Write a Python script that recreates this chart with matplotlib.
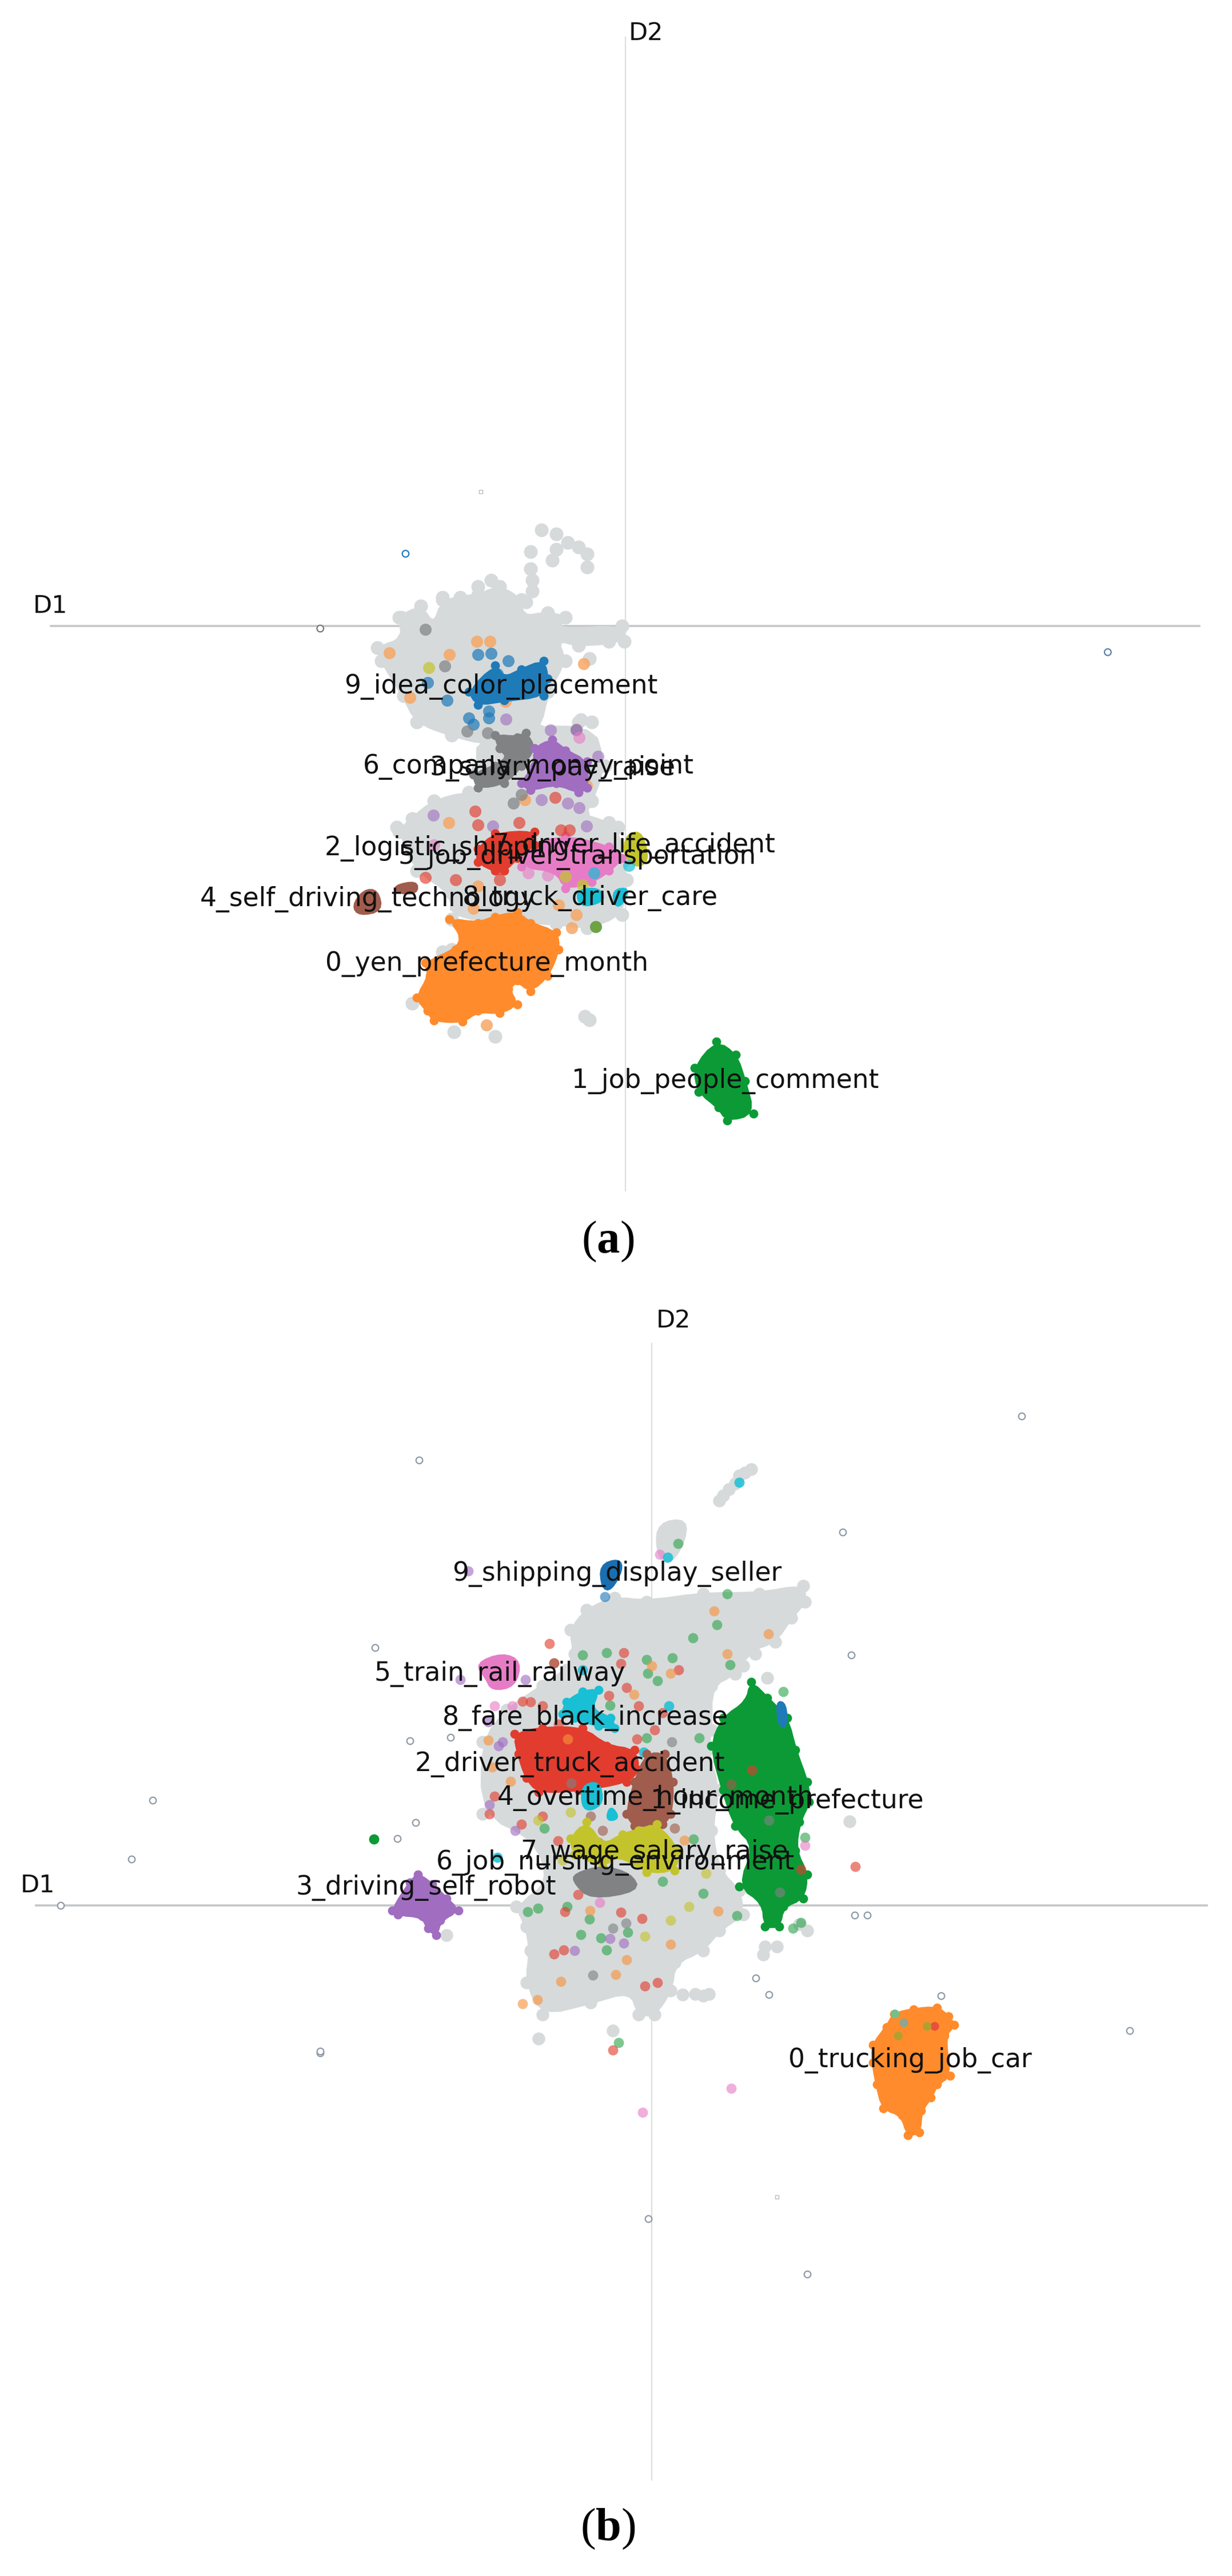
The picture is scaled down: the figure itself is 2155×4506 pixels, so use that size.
import matplotlib
matplotlib.use("Agg")
import matplotlib.pyplot as plt

plt.rcParams['font.family'] = ['DejaVu Sans']
plt.rcParams['mathtext.fontset'] = 'custom'
plt.rcParams['mathtext.rm'] = 'Liberation Serif'
plt.rcParams['mathtext.bf'] = 'Liberation Serif:bold'

BLUE, ORANGE, GREEN, RED, PURPLE = '#1f7ab8', '#ff8b2c', '#0c9a36', '#e23c2e', '#a06dc0'
BROWN, PINK, DGRAY, OLIVE, CYAN = '#a05c4c', '#e77cc6', '#808284', '#c3c42c', '#19bfd4'
LGRAY = '#d6dadb'

# ---------- Panel (a) ----------
a_gray_blobs = [
    [(520,300),(570,275),(600,320),(620,260),(700,250),(750,230),(800,260),(800,300),(860,290),(900,300),(880,330),(1030,320),(1035,355),(930,365),(880,350),(900,400),(860,470),(840,560),(780,570),(720,590),(640,570),(560,540),(530,480),(480,400),(470,370),(530,350)],
    [(700,570),(960,540),(990,640),(960,720),(940,760),(880,770),(700,720),(700,650)],
    [(550,760),(600,720),(680,700),(780,720),(940,750),(1020,780),(1030,860),(1040,900),(1030,980),(950,1010),(880,1000),(640,990),(640,930),(560,880),(520,790)],
]
a_gray_x = [845,880,905,930,950,950,880,870,820,820,825,825,810,790,730,700,620,660,700,730,745,640,550,740,945,645,620,515,930,955,870,1000,525,632,935,955,1000]
a_gray_y = [100,110,130,140,155,185,145,170,150,190,215,240,265,290,215,230,255,255,280,270,240,1060,1182,1258,1212,1248,1065,780,540,395,595,770,300,296,535,1220,355]
a_blue_blobs = [[(680,470),(740,410),(760,440),(800,420),(850,400),(860,440),(850,480),(760,490),(700,500)]]
a_blue_x = [700,730,770,680,690,725,725,630,585,745]
a_blue_y = [385,383,400,530,545,515,530,490,450,430]
a_dgray_blobs = [[(740,570),(790,575),(810,565),(830,600),(800,640),(760,680),(700,690),(690,660),(740,640),(770,620),(750,600)]]
a_dgray_x = [580,625,722,800,782,675,925]
a_dgray_y = [328,412,565,705,725,560,556]
a_purple_blobs = [[(830,600),(870,580),(900,605),(950,630),(950,690),(930,700),(880,680),(820,695),(800,680),(830,640)]]
a_purple_x = [765,866,925,975,845,905,932,598,735,948]
a_purple_y = [533,558,558,618,717,725,736,752,777,778]
a_red_blobs = [[(700,830),(740,795),(830,790),(830,820),(790,850),(760,880),(740,880),(700,860)]]
a_red_x = [580,694,700,795,877,650,750,890,910,750]
a_red_y = [895,744,775,770,712,900,900,787,787,875]
a_pink_blobs = [[(810,825),(900,800),(1000,825),(1030,850),(1000,880),(960,905),(900,920),(880,880),(800,870)]]
a_pink_x = [860,600,932,815]
a_pink_y = [890,820,575,885]
a_olive_blobs = [[(1040,800),(1070,790),(1085,830),(1085,860),(1060,870),(1035,840)]]
a_olive_x = [900,588,940]
a_olive_y = [893,415,912]
a_cyan_blobs = [[(930,925),(975,920),(990,945),(950,960),(930,950)], [(1010,925),(1045,920),(1030,955),(1015,960)]]
a_cyan_x = [965,1045]
a_cyan_y = [885,868]
a_brown_blobs = [[(415,960),(440,925),(470,925),(480,970),(430,980)], [(510,915),(560,905),(560,930),(520,930)]]
a_orange_blobs = [[(635,990),(700,1000),(740,985),(790,975),(820,1000),(880,1020),(885,1060),(860,1120),(820,1155),(790,1130),(770,1150),(790,1185),(750,1205),(700,1200),(665,1225),(600,1222),(585,1200),(560,1170),(590,1120),(580,1090),(650,1060),(665,1030)]]
a_orange_x = [498,698,728,635,942,808,634,700,915,925,720,545,763,948,885,690]
a_orange_y = [382,355,355,386,407,718,770,915,1010,980,1232,483,492,685,958,965]
a_green_blobs = [[(1195,1330),(1245,1270),(1290,1300),(1310,1360),(1330,1435),(1270,1450),(1250,1420),(1205,1385)]]
a_lime_x, a_lime_y = [970], [1007]
a_hollow_x = [340,535,2140]
a_hollow_y = [326,155,380]
a_hollow_c = ['#777777',BLUE,'#5a7fa8']
a_tiny_x, a_tiny_y = [707], [13]
a_labels = ["9_idea_color_placement","6_company_money_point","3_salary_pay_raise","2_logistic_shipping",
            "7_driver_life_accident","5_job_driver_transportation","8_truck_driver_care",
            "4_self_driving_technology","0_yen_prefecture_month","1_job_people_comment"]
a_label_x = [395,437,590,350,733,518,665,65,352,915]
a_label_y = [458,642,645,828,822,848,942,945,1092,1360]

# ---------- Panel (b) ----------
b_gray_blobs = [
    [(710,500),(750,450),(820,420),(900,430),(1040,410),(1180,410),(1290,390),(1295,430),(1260,470),(1220,530),(1160,550),(1120,610),(1060,640),(1060,750),(1050,800),(1080,900),(1060,1000),(1080,1100),(1130,1150),(1140,1210),(1080,1250),(1040,1300),(970,1330),(960,1400),(920,1460),(880,1460),(860,1400),(760,1430),(640,1460),(600,1380),(610,1300),(600,1240),(575,1190),(660,1130),(620,1020),(490,960),(490,780),(550,700),(640,640),(700,600),(720,560)],
    [(930,235),(1000,225),(990,290),(950,340),(925,300)],
]
b_gray_x = [1160,1145,1130,1120,1105,1090,1080,1405,990,1040,1055,1020,1195,1300,630,1225,1280,400,815,1200,1140,1170,1190]
b_gray_y = [100,108,115,135,150,165,178,978,1410,1412,1408,1408,1290,1250,1520,1290,1235,1262,1500,620,590,560,1310]
b_green_blobs = [[(1160,630),(1200,670),(1250,720),(1270,800),(1300,880),(1305,930),(1280,980),(1270,1050),(1300,1110),(1290,1170),(1240,1190),(1230,1240),(1195,1240),(1190,1180),(1130,1140),(1170,1040),(1120,990),(1090,900),(1060,790),(1090,720),(1150,680)]]
b_green_x = [978,1100,1075,1015,740,800,900,963,903,927,1108,1240,1030,900,808,645,1017,1040,1125,940,702,603,628,757,853,735,785,800,830,1265,1285,1295]
b_green_y = [285,410,488,520,563,558,575,570,608,627,587,655,770,770,688,995,1022,1158,1213,1127,1190,1203,1195,1222,1255,1260,1268,1298,1530,1245,1230,1018]
b_bright_x, b_bright_y = [220], [1022]
b_blue_blobs = [[(1225,680),(1245,685),(1248,740),(1230,738)]]
b_dblue_blobs = [[(785,340),(830,325),(838,350),(810,400),(790,395)]]
b_blue_x, b_blue_y = [795,965], [418,1068]
b_red_blobs = [[(570,760),(640,745),(740,745),(800,790),(870,800),(880,850),(850,880),(730,900),(630,905),(600,870),(580,810)]]
b_red_x = [657,842,835,980,668,590,805,880,850,920,875,940,520,508,588,640,678,728,835,888,695,693,895,927,668,1162,1285,1420,815,610,640,680]
b_red_y = [535,558,585,600,583,678,665,690,645,750,773,707,915,960,985,965,1027,1160,1205,1220,1203,1298,1388,1380,1308,850,1098,1090,1548,680,690,735]
b_cyan_blobs = [[(700,680),(740,655),(780,650),(760,700),(810,720),(820,745),(780,740),(720,720),(690,710)],
                [(740,890),(780,880),(790,930),(760,950),(740,940)], [(810,940),(830,970),(800,975)]]
b_cyan_x = [740,893,955,1130,952,528]
b_cyan_y = [600,805,690,132,320,1068]
b_brown_blobs = [[(900,810),(945,810),(965,880),(960,960),(940,985),(870,990),(850,960),(870,880)]]
b_brown_x = [668,970,1110,760,790,780]
b_brown_y = [583,995,885,965,1000,1030]
b_olive_blobs = [[(710,1020),(750,980),(790,1040),(840,1010),(880,1000),(925,985),(980,1050),(970,1100),(900,1105),(830,1060),(790,1090),(720,1060)]]
b_olive_x = [1048,1005,960,895,690,628,710]
b_olive_y = [1107,1190,1225,1265,1075,975,955]
b_dgray_blobs = [[(720,1110),(790,1090),(860,1110),(880,1150),(760,1170),(720,1130)]]
b_dgray_x = [765,815,848,1205,1232,712,962]
b_dgray_y = [1362,1245,1232,975,1155,883,780]
b_purple_blobs = [[(265,1200),(310,1130),(330,1110),(365,1135),(400,1170),(430,1200),(385,1225),(375,1262),(355,1245),(340,1215),(280,1210)]]
b_purple_x = [455,435,597,505,530,508,572,808,843,720,540]
b_purple_y = [353,625,625,730,790,937,1000,1270,1282,1300,780]
b_pink_blobs = [[(475,585),(540,560),(585,580),(570,640),(515,650),(500,620)]]
b_pink_x = [932,783,520,565,1295,1111,890]
b_pink_y = [312,1180,690,690,1038,1643,1704]
b_orange_blobs = [[(1464,1535),(1498,1491),(1517,1458),(1565,1447),(1623,1442),(1652,1464),(1666,1486),(1642,1513),(1656,1612),(1623,1634),(1608,1667),(1584,1699),(1580,1754),(1551,1760),(1536,1710),(1489,1694),(1474,1634),(1464,1579)]]
b_orange_x = [1067,1203,1100,912,960,868,703,505,560,993,758,1078,960,850,822,685,627,590,515]
b_orange_y = [453,511,560,590,608,662,772,776,878,1025,1200,1202,1285,1323,1360,1377,1422,1432,843]
b_inset_x = [1519,1541,1618,1599,1527]
b_inset_y = [1458,1480,1489,1489,1513]
b_inset_c = ['#74c08a','#8fa58c','#e8503a','#b0a030','#b0a030']
b_hollow_x = [1835,332,1388,223,1410,310,323,278,410,85,-332,-385,-562,86,1633,2104,1300,904,1172,1204,1418,1450]
b_hollow_y = [-33,77,257,545,563,777,981,1020,768,1555,925,1072,1187,1551,1412,1499,2107,1969,1368,1410,1212,1211]
b_tiny_x, b_tiny_y = [1224], [1915]
b_labels = ["9_shipping_display_seller","5_train_rail_railway","8_fare_black_increase","2_driver_truck_accident",
            "4_overtime_hour_month","1_income_prefecture","7_wage_salary_raise","6_job_nursing_environment",
            "3_driving_self_robot","0_trucking_job_car"]
b_label_x = [415,220,390,322,527,910,585,375,25,1253]
b_label_y = [360,610,720,836,920,928,1055,1080,1143,1574]

W, H = 2155, 4506
SPLIT = 2250
LABEL_SIZE = 32.8
fig = plt.figure(figsize=(W/100, H/100), dpi=100, facecolor='white')


def panel(top, bottom, ox, oy, scale):
    """Axes spanning figure rows top..bottom; data units are scale pixels, origin at pixel (ox, oy)."""
    ax = fig.add_axes([0, 1-bottom/H, 1, (bottom-top)/H])
    ax.set_xlim((0-ox)/scale, (W-ox)/scale)
    ax.set_ylim((bottom-oy)/scale, (top-oy)/scale)
    ax.axis('off')
    return ax


def rounded(p, n=2):
    """Corner-cut a closed outline so that a cluster edge looks soft."""
    for _ in range(n):
        q = []
        for i in range(len(p)):
            a, b = p[i], p[(i+1) % len(p)]
            q.append((.75*a[0]+.25*b[0], .75*a[1]+.25*b[1]))
            q.append((.25*a[0]+.75*b[0], .25*a[1]+.75*b[1]))
        p = q
    return p


def blobs(ax, polys, color, z, s=130):
    for p in polys:
        r = rounded(p)
        ax.fill([q[0] for q in r], [q[1] for q in r], color=color, lw=4, zorder=z)
        if len(p) > 6:
            ax.scatter([q[0] for q in p], [q[1] for q in p], s=s, color=color, linewidths=0, zorder=z)


def dots(ax, x, y, color, z, alpha=0.62, s=165):
    ax.scatter(x, y, s=s, c=color, alpha=alpha, linewidths=0, zorder=z)


# Panel (a)
axa = panel(0, SPLIT, 300, 850, 0.7653)
axa.plot([(89-300)/.7653, (2098-300)/.7653], [320.5, 320.5], color='#c4c6c8', lw=2.6, zorder=1)
axa.plot([1037, 1037], [(65-850)/.7653, (2083-850)/.7653], color='#dcdedf', lw=1.6, zorder=1)
blobs(axa, a_gray_blobs, LGRAY, 2, s=300)
dots(axa, a_gray_x, a_gray_y, LGRAY, 2, alpha=1, s=300)
blobs(axa, a_orange_blobs, ORANGE, 3)
dots(axa, a_orange_x, a_orange_y, '#f6a765', 4, alpha=.85, s=230)
blobs(axa, a_blue_blobs, BLUE, 4)
dots(axa, a_blue_x, a_blue_y, BLUE, 4, alpha=.7, s=230)
blobs(axa, a_dgray_blobs, DGRAY, 4)
dots(axa, a_dgray_x, a_dgray_y, DGRAY, 4, alpha=.7, s=230)
blobs(axa, a_purple_blobs, PURPLE, 4)
dots(axa, a_purple_x, a_purple_y, PURPLE, 4, alpha=.6, s=230)
blobs(axa, a_pink_blobs, PINK, 4)
dots(axa, a_pink_x, a_pink_y, PINK, 4, alpha=.6, s=230)
blobs(axa, a_red_blobs, RED, 5)
dots(axa, a_red_x, a_red_y, RED, 5, alpha=.65, s=230)
blobs(axa, a_olive_blobs, OLIVE, 5)
dots(axa, a_olive_x, a_olive_y, OLIVE, 5, alpha=.7, s=230)
blobs(axa, a_cyan_blobs, CYAN, 5)
dots(axa, a_cyan_x, a_cyan_y, CYAN, 5, alpha=.7, s=230)
blobs(axa, a_brown_blobs, BROWN, 5)
blobs(axa, a_green_blobs, GREEN, 5)
dots(axa, a_lime_x, a_lime_y, '#6ea244', 5, alpha=1, s=230)
axa.scatter(a_hollow_x, a_hollow_y, s=70, facecolors='white', edgecolors=a_hollow_c, linewidths=1.6, zorder=3)
axa.scatter(a_tiny_x, a_tiny_y, s=18, marker='s', facecolors='white', edgecolors='#bbbbbb', linewidths=1, zorder=3)
for t, x, y in zip(a_labels, a_label_x, a_label_y):
    axa.text(x, y, t, fontsize=LABEL_SIZE, color='#111111', ha='left', va='center', zorder=10)

# Panel (b)
axb = panel(SPLIT, H, 500, 2500, 0.7015)
axb.plot([(63-500)/.7015, (2111-500)/.7015], [1187, 1187], color='#c4c6c8', lw=2.6, zorder=1)
axb.plot([912, 912], [(2350-2500)/.7015, (4338-2500)/.7015], color='#dcdedf', lw=1.6, zorder=1)
blobs(axb, b_gray_blobs, LGRAY, 2, s=260)
dots(axb, b_gray_x, b_gray_y, LGRAY, 2, alpha=1, s=260)
blobs(axb, b_orange_blobs, ORANGE, 4)
blobs(axb, b_green_blobs, GREEN, 4)
dots(axb, b_green_x, b_green_y, '#2fa64e', 5)
dots(axb, b_bright_x, b_bright_y, GREEN, 5, alpha=1)
blobs(axb, b_blue_blobs, BLUE, 5)
blobs(axb, b_dblue_blobs, '#1a6fb0', 5)
dots(axb, b_blue_x, b_blue_y, BLUE, 5)
blobs(axb, b_red_blobs, RED, 5)
dots(axb, b_red_x, b_red_y, RED, 5)
blobs(axb, b_cyan_blobs, CYAN, 6)
dots(axb, b_cyan_x, b_cyan_y, CYAN, 6, alpha=.85)
blobs(axb, b_brown_blobs, BROWN, 6)
dots(axb, b_brown_x, b_brown_y, BROWN, 5)
blobs(axb, b_olive_blobs, OLIVE, 6)
dots(axb, b_olive_x, b_olive_y, OLIVE, 5)
blobs(axb, b_dgray_blobs, DGRAY, 6)
dots(axb, b_dgray_x, b_dgray_y, DGRAY, 5)
blobs(axb, b_purple_blobs, PURPLE, 5)
dots(axb, b_purple_x, b_purple_y, PURPLE, 5)
blobs(axb, b_pink_blobs, PINK, 5)
dots(axb, b_pink_x, b_pink_y, PINK, 5)
dots(axb, b_orange_x, b_orange_y, '#f8923c', 5)
axb.scatter(b_inset_x, b_inset_y, s=120, c=b_inset_c, linewidths=0, zorder=6)
axb.scatter(b_hollow_x, b_hollow_y, s=70, facecolors='white', edgecolors='#8f9aa5', linewidths=1.6, zorder=3)
axb.scatter(b_tiny_x, b_tiny_y, s=18, marker='s', facecolors='white', edgecolors='#bbbbbb', linewidths=1, zorder=3)
for t, x, y in zip(b_labels, b_label_x, b_label_y):
    axb.text(x, y, t, fontsize=LABEL_SIZE, color='#111111', ha='left', va='center', zorder=10)

# Axis names and panel letters, placed in figure pixels
for t, px, py in [("D2", 1130, 58), ("D1", 88, 1060), ("D2", 1178, 2310), ("D1", 66, 3298)]:
    fig.text(px/W, 1-py/H, t, fontsize=31, ha='center', va='center', color='#111111')
for t, py in [(r"($\mathbf{a}$)", 2172), (r"($\mathbf{b}$)", 4424)]:
    fig.text(1063/W, 1-py/H, t, fontsize=58, ha='center', va='center', color='black',
             family='Liberation Serif')

fig.savefig('out.png', dpi=100, facecolor='white')
